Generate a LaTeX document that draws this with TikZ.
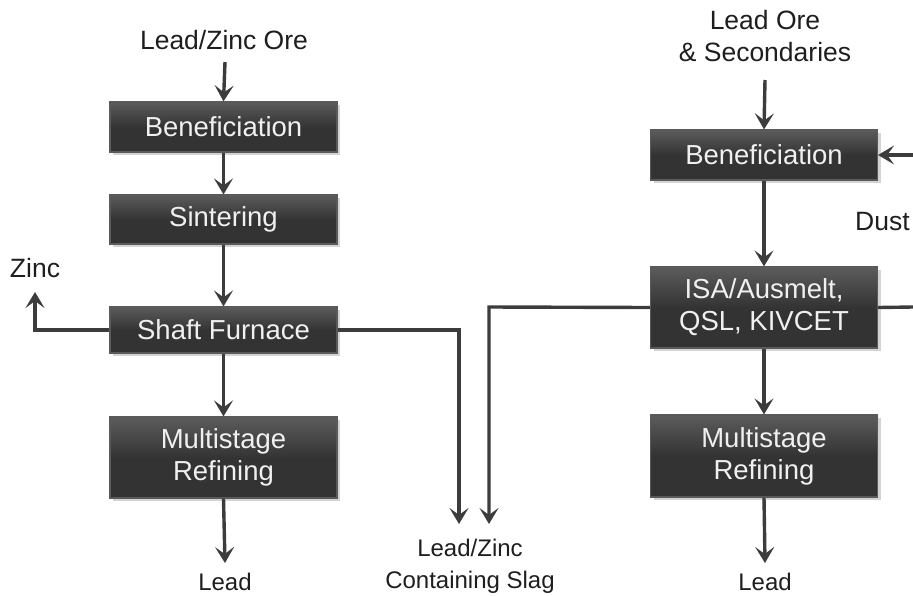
\documentclass[tikz,border=0pt]{standalone}
\usepackage{fontspec}
\setmainfont{Liberation Sans}
\usetikzlibrary{arrows.meta,shadows,positioning}
\definecolor{boxfill}{HTML}{333333}
\definecolor{boxedge}{HTML}{5A5A5A}
\definecolor{linec}{HTML}{3C3C3C}
\definecolor{txt}{HTML}{1E1E1E}
\definecolor{boxtxt}{HTML}{F0F0F0}
\tikzset{
  x=1pt,y=-1pt,
  procbox/.style={draw=boxedge, line width=1.2pt, top color=boxfill!80!white, bottom color=boxfill, middle color=boxfill,
    text=boxtxt, minimum width=227pt, font=\fontsize{27.5}{32}\selectfont, align=center, inner sep=0pt,
    drop shadow={shadow xshift=3pt, shadow yshift=-3pt, opacity=0.35, fill=gray}},
  lbl/.style={text=txt, font=\fontsize{26.5}{32}\selectfont, align=center, inner sep=0pt},
  lbls/.style={text=txt, font=\fontsize{24}{32}\selectfont, align=center, inner sep=0pt},
  flow/.style={draw=linec, line width=3.4pt, -{Stealth[length=16pt,width=19pt,inset=7pt]}},
  plain/.style={draw=linec, line width=3.4pt}
}
\begin{document}
\begin{tikzpicture}
\useasboundingbox (0,0) rectangle (913,595);
% left column
\node[lbl] (ore1) at (224,40) {Lead/Zinc Ore};
\node[procbox, minimum height=50pt] (ben1) at (223.5,127) {Beneficiation};
\node[procbox, minimum height=49pt] (sin1) at (223.5,219.5) {Sintering};
\node[procbox, minimum height=46pt] (sf1) at (223.5,330) {Shaft Furnace};
\node[procbox, minimum height=81pt] (ref1) at (223.5,457.5) {Multistage\\Refining};
\node[lbls] (lead1) at (225,582) {Lead};
\node[lbl] (zinc) at (35,268) {Zinc};
\coordinate (zinctip) at (35,292);
% right column
\node[lbl] (ore2) at (765,36) {Lead Ore\\\& Secondaries};
\node[procbox, minimum height=50pt] (ben2) at (764,155) {Beneficiation};
\node[procbox, minimum height=81pt] (isa) at (764,307.5) {ISA/Ausmelt,\\QSL, KIVCET};
\node[procbox, minimum height=82pt] (ref2) at (764,456) {Multistage\\Refining};
\node[lbls] (lead2) at (765,582) {Lead};
\node[lbl, anchor=west] (dust) at (855,222) {Dust};
\coordinate (dustin) at (913,155);
\coordinate (isaout) at (913,307);
% slag
\node[lbls] (slag) at (470,566) {Lead/Zinc\\Containing Slag};
\coordinate (slagA) at (459,524);
\coordinate (slagB) at (489,524);
% arrows left
\draw[flow] (225,62) -- (ben1.north);
\draw[flow] (ben1.south) -- (sin1.north);
\draw[flow] (sin1.south) -- (sf1.north);
\draw[flow] (sf1.south) -- (ref1.north);
\draw[flow] (ref1.south) -- (225,563);
\draw[flow] (sf1.west) -- (35,330) -- (zinctip);
\draw[flow] (sf1.east) -- (459,330) -- (slagA);
% arrows right
\draw[flow] (765,80) -- (ben2.north);
\draw[flow] (ben2.south) -- (isa.north);
\draw[flow] (isa.south) -- (ref2.north);
\draw[flow] (ref2.south) -- (765,563);
\draw[flow] (dustin) -- (ben2.east);
\draw[plain] (isa.east) -- (isaout);
\draw[flow] (isa.west) -- (489,307) -- (slagB);
\end{tikzpicture}
\end{document}
